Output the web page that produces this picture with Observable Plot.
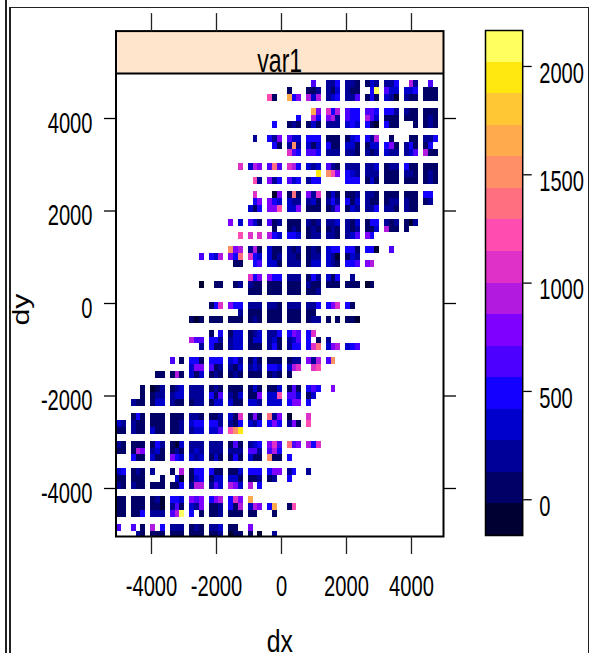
<!DOCTYPE html>
<html><head><meta charset="utf-8">
<script src="https://cdn.jsdelivr.net/npm/d3@7"></script>
<script src="https://cdn.jsdelivr.net/npm/@observablehq/plot@0.6"></script>
<style>
html,body{margin:0;padding:0;background:#fff;}
#page{position:relative;width:590px;height:653px;overflow:hidden;}
#page svg{position:absolute;top:0;overflow:visible;background:transparent;}
.fl{position:absolute;background:#222;z-index:5;}
</style></head><body><div id="page"></div>
<script>
const panelTitle = "var1";
const xLabel = "dx", yLabel = "dy";
const xTicks = [-4000,-2000,0,2000,4000];
const yTicks = [-4000,-2000,0,2000,4000];
const colorTicks = [0,500,1000,1500,2000];
const colorRange = [-165,2166];
const bandColors = ["#000033","#000066","#000099","#0000cc","#1400ff","#4c00ff","#8000ff","#b31adf","#df30c8","#ff4cb0","#ff6f80","#ff8f66","#ffaa4d","#ffc733","#ffe710","#ffff60"];
// grid: row index | first block : blocks of three cells, each char one colour band (hex), "." = empty
const gridRows = [
"1|10:.5. 224 221 132 224 .72 .5.",
"2|9:1.. 112 213 211 .4f 533 334 111",
"3|8:91. c46 737 234 225 141 320 211 111",
"5|10:.c6 847 544 554 442 211 111",
"6|9:..4 .74 672 544 753 111 111 121",
"7|8:.4. 121 131 222 343 410 411 ..1 121",
"9|7:.2. 426 533 444 111 134 427 .1. .11 224",
"10|8:.41 2b2 313 411 331 133 461 241 14.",
"11|9:854 554 222 221 212 322 235 711",
"13|6:..8 376 5a5 874 323 521 222 223 122 411 111",
"14|10:..e b96 432 222 111 221 121",
"15|7:.92 624 534 244 ... 444 131 111 111 121",
"17|7:.8. .06 1a1 628 131 112 221 111 111 44.",
"18|7:.46 643 322 231 242 413 211 122 211 12.",
"19|7:314 669 336 111 125 132 224 221 211",
"21|6:6.3 531 512 111 212 223 213 144 212 102",
"22|8:.1. 121 121 121 212 113 711 1..",
"23|6:..9 8.8 743 443 122 221 235 64.",
"25|6:b67 271 311 212 121 344 441 440 .5.",
"26|4:..5 437 64a 843 312 221 122 320 132",
"27|6:.11 .45 331 222 133 321 445 67.",
"29|7:846 644 222 142 314 .2.",
"30|4:..0 .11 .12 211 111 111 211 111 111 01.",
"31|7:111 111 111 112",
"33|5:148 644 222 221 222 224 468 41.",
"34|6:..2 111 111 111 11.",
"35|4:101 111 111 121 111 111 122 1.1 110",
"37|5:1.4 133 123 224 465 48.",
"38|4:755 442 233 133 231 235 4.1 2..",
"39|4:..2 411 233 111 241 244 48a 367 345",
"41|3:5.1 441 444 342 131 111 122 627 5b.",
"42|4:366 512 213 232 443 378 .89",
"43|2:.11 171 313 121 121 111 121 1..",
"45|1:..1 012 123 222 121 111 131 113 151 454 .6.",
"46|1:..1 122 233 222 415 213 116 339 553 13.",
"47|1:211 133 211 122 133 311 332 333 466 4..",
"49|1:141 111 111 221 112 318 161 a26 0.. 8..",
"50|0:32 211 111 112 344 442 214 324 464 261 9..",
"51|0:11 211 311 112 233 335 9be",
"53|0:21 111 142 103 222 222 151 234 685 a56 748",
"54|0:11 176 231 121 232 222 222 552 574",
"55|1:411 311 643 323 131 141 311 b11 4..",
"57|0:34 121 2.. 1.7 144 411 113 444 466 24. 2..",
"58|0:11 111 ..1 .30 134 133 331 112 12. 4..",
"59|0:21 211 111 114 277 253 763 7.4",
"61|0:11 111 120 443 656 467 486 c..",
"62|0:11 111 110 251 326 112 417 376 4c. 19.",
"63|0:11 114 222 57f 4.1 112 111 11. .1.",
"65|0:5. 5.1 7.4 222 121 223 11. 6..",
"66|1:.21 111 111 111 112 011 1.0 .2."
];

const step = 150;
const bandWidth = (colorRange[1]-colorRange[0])/bandColors.length;
const breaks = d3.range(1,bandColors.length).map(i=>colorRange[0]+i*bandWidth);
const cells = [];
for (const line of gridRows) {
  const [r,rest] = line.split("|");
  const [first,body] = rest.split(":");
  body.split(" ").forEach((tok,i)=>{
    const b = +first+i;
    const start = b===0 ? 0 : 4*b-1;
    [...tok].forEach((c,j)=>{
      if (c===".") return;
      const L = parseInt(c,16);
      cells.push({dx:-5000+step*(start+j), dy:4900-step*(+r), value:colorRange[0]+(L+.5)*bandWidth});
    });
  });
}
const bands = bandColors.map((c,i)=>({lo:colorRange[0]+i*bandWidth, hi:colorRange[0]+(i+1)*bandWidth, c}));

const font = {fontFamily:"'Liberation Sans',Arial,sans-serif",fontSize:"28.8px",background:"transparent",color:"#000",overflow:"visible"};
const xDomain = [-5092,4985];
const panelTop = 4973, stripTop = 5890, panelBottom = -5038;
const str = d=>`${d}`;

const main = Plot.plot({
  width:590,height:653,
  marginLeft:115.5,marginRight:147,marginTop:30.6,marginBottom:117,
  style:font,
  x:{domain:xDomain,label:null},
  y:{domain:[panelBottom,stripTop],label:null},
  color:{type:"threshold",domain:breaks,range:bandColors},
  marks:[
    Plot.rect(cells,{x1:d=>d.dx-step/2,x2:d=>d.dx+step/2,y1:d=>d.dy-step/2,y2:d=>Math.min(d.dy+step/2,panelTop),fill:"value",clip:true,shapeRendering:"crispEdges"}),
    Plot.rect([panelTitle],{x1:xDomain[0],x2:xDomain[1],y1:panelTop,y2:stripTop,fill:"#ffe5cc"}),
    Plot.ruleY([panelTop],{stroke:"#000",strokeWidth:2}),
    Plot.frame({stroke:"#000",strokeWidth:2}),
    Plot.text([panelTitle],{frameAnchor:"top",dy:17,text:d=>d,fontSize:33,fill:"#000"}),
    Plot.axisX({anchor:"bottom",ticks:xTicks,tickSize:18,tickPadding:21,tickFormat:str,label:null,strokeWidth:1.3,stroke:"#222"}),
    Plot.axisX({anchor:"top",ticks:xTicks,tickSize:18.5,fill:"none",label:null,strokeWidth:1.3,stroke:"#222"}),
    Plot.axisY({anchor:"left",ticks:yTicks,tickSize:11.5,fill:"none",label:null,strokeWidth:1.3,stroke:"#000"}),
    Plot.axisY({anchor:"left",ticks:yTicks,tickSize:0,tickPadding:23.5,dy:5,tickFormat:str,label:null}),
    Plot.axisY({anchor:"right",ticks:yTicks,tickSize:12,fill:"none",label:null,strokeWidth:1.3,stroke:"#000"}),
    Plot.text([xLabel],{frameAnchor:"bottom",lineAnchor:"bottom",dy:115,text:d=>d,fontSize:31,fill:"#000"}),
    Plot.text([yLabel],{frameAnchor:"left",textAnchor:"middle",y:()=>0,dy:6,dx:-87.5,rotate:-90,lineAnchor:"bottom",text:d=>d,fontSize:24.5,fill:"#000"})
  ]
});

const key = Plot.plot({
  width:105.5,height:653,
  marginLeft:0,marginRight:68.3,marginTop:30,marginBottom:118,
  style:font,
  x:{domain:[0,1],axis:null},
  y:{domain:colorRange,label:null},
  marks:[
    Plot.rect(bands,{x1:0,x2:1,y1:"lo",y2:"hi",fill:"c",shapeRendering:"crispEdges"}),
    Plot.frame({stroke:"#000",strokeWidth:1.5}),
    Plot.axisY({anchor:"right",ticks:colorTicks,tickSize:8.5,fill:"none",label:null,strokeWidth:1.3,stroke:"#000"}),
    Plot.axisY({anchor:"right",ticks:colorTicks,tickSize:0,tickPadding:16.5,dy:7,tickFormat:str,label:null})
  ]
});
key.style.left="484.5px";

const page = document.getElementById("page");
page.append(main,key);
page.querySelectorAll("svg text").forEach(t=>{
  const n = t.getComputedTextLength();
  if (!(n>0)) return;
  const target = t.textContent===yLabel ? 32 : t.textContent===xLabel ? n*0.8 : n*0.70;
  t.setAttribute("textLength",target.toFixed(1));
  t.setAttribute("lengthAdjust","spacingAndGlyphs");
});
const lines = [[5,0,1.6,653],[9.3,7,1.8,646],[9.3,6.6,579.4,1.6],[587.6,6.6,1.6,646.4]];
for (const [l,t,w,h] of lines){
  const d=document.createElement("div"); d.className="fl";
  d.style.cssText=`left:${l}px;top:${t}px;width:${w}px;height:${h}px`;
  page.append(d);
}
</script></body></html>
